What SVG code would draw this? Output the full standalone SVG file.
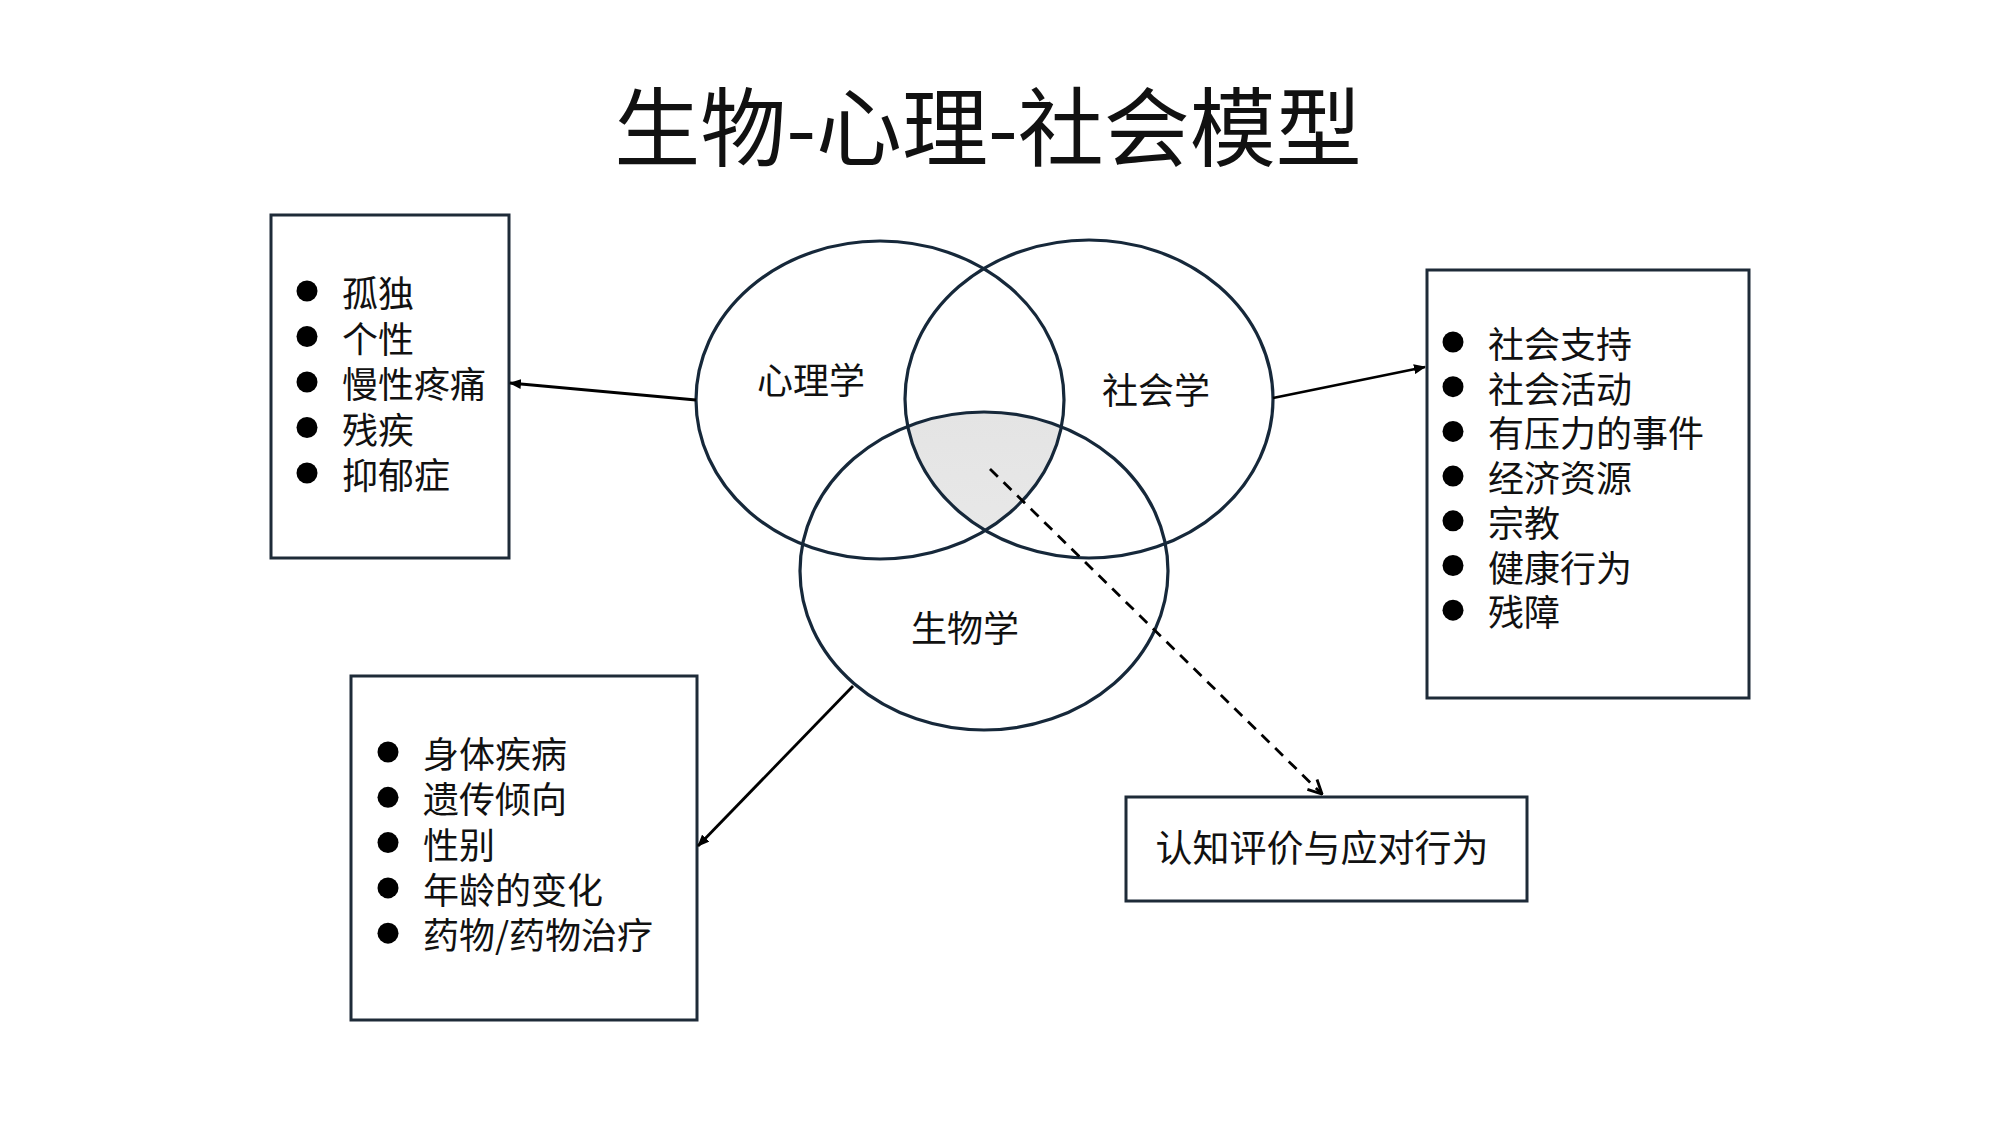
<svg xmlns="http://www.w3.org/2000/svg" width="2000" height="1124" viewBox="0 0 2000 1124">
<style>
text{font-family:"Noto Sans CJK SC","Noto Sans",sans-serif;fill:#111}
.item{font-size:36px;dominant-baseline:central}
.lbl{font-size:36px;dominant-baseline:central;text-anchor:middle}
.box{fill:#fff;stroke:#1e2b38;stroke-width:3}
.ell{fill:none;stroke:#16283a;stroke-width:3.2}
.bul{fill:#000}
.con{stroke:#000;stroke-width:2.8;fill:none}
</style>
<defs>
<marker id="arr" viewBox="0 0 12 10" refX="11" refY="5" markerWidth="12" markerHeight="10" markerUnits="userSpaceOnUse" orient="auto">
<path d="M0,0 L12,5 L0,10 Z" fill="#000"/>
</marker>
<marker id="open" viewBox="0 0 14 14" refX="13" refY="7" markerWidth="16" markerHeight="16" markerUnits="userSpaceOnUse" orient="auto">
<path d="M1,1 L13,7 L1,13" fill="none" stroke="#000" stroke-width="2.5"/>
</marker>
<linearGradient id="shade" x1="0" y1="0" x2="0" y2="1">
<stop offset="0" stop-color="#e4e4e4"/>
<stop offset="1" stop-color="#eeeeee"/>
</linearGradient>
<clipPath id="cpPsy"><ellipse cx="880" cy="400" rx="184" ry="159"/></clipPath>
<clipPath id="cpSoc"><ellipse cx="1089" cy="399" rx="184" ry="159"/></clipPath>
</defs>
<rect width="2000" height="1124" fill="#fff"/>
<text id="title" x="988" y="160" font-size="86" text-anchor="middle">生物-心理-社会模型</text>

<g id="venn">
<g clip-path="url(#cpPsy)"><g clip-path="url(#cpSoc)"><ellipse cx="984" cy="571" rx="184" ry="159" fill="url(#shade)"/></g></g>
<g id="psychology"><ellipse class="ell" cx="880" cy="400" rx="184" ry="159"/><text class="lbl" x="811" y="378">心理学</text></g>
<g id="sociology"><ellipse class="ell" cx="1089" cy="399" rx="184" ry="159"/><text class="lbl" x="1156" y="388">社会学</text></g>
<g id="biology"><ellipse class="ell" cx="984" cy="571" rx="184" ry="159"/><text class="lbl" x="965" y="626">生物学</text></g>
</g>

<g id="psych-box">
<rect class="box" x="271" y="215" width="238" height="343"/>
<circle class="bul" cx="307" cy="291" r="10.5"/><text class="item" x="342" y="291">孤独</text>
<circle class="bul" cx="307" cy="336.5" r="10.5"/><text class="item" x="342" y="336.5">个性</text>
<circle class="bul" cx="307" cy="382" r="10.5"/><text class="item" x="342" y="382">慢性疼痛</text>
<circle class="bul" cx="307" cy="427.5" r="10.5"/><text class="item" x="342" y="427.5">残疾</text>
<circle class="bul" cx="307" cy="473" r="10.5"/><text class="item" x="342" y="473">抑郁症</text>
</g>

<g id="social-box">
<rect class="box" x="1427" y="270" width="322" height="428"/>
<circle class="bul" cx="1453" cy="342" r="10.5"/><text class="item" x="1488" y="342">社会支持</text>
<circle class="bul" cx="1453" cy="386.7" r="10.5"/><text class="item" x="1488" y="386.7">社会活动</text>
<circle class="bul" cx="1453" cy="431.4" r="10.5"/><text class="item" x="1488" y="431.4">有压力的事件</text>
<circle class="bul" cx="1453" cy="476.1" r="10.5"/><text class="item" x="1488" y="476.1">经济资源</text>
<circle class="bul" cx="1453" cy="520.8" r="10.5"/><text class="item" x="1488" y="520.8">宗教</text>
<circle class="bul" cx="1453" cy="565.5" r="10.5"/><text class="item" x="1488" y="565.5">健康行为</text>
<circle class="bul" cx="1453" cy="610.2" r="10.5"/><text class="item" x="1488" y="610.2">残障</text>
</g>

<g id="bio-box">
<rect class="box" x="351" y="676" width="346" height="344"/>
<circle class="bul" cx="388" cy="752" r="10.5"/><text class="item" x="423" y="752">身体疾病</text>
<circle class="bul" cx="388" cy="797.3" r="10.5"/><text class="item" x="423" y="797.3">遗传倾向</text>
<circle class="bul" cx="388" cy="842.6" r="10.5"/><text class="item" x="423" y="842.6">性别</text>
<circle class="bul" cx="388" cy="887.9" r="10.5"/><text class="item" x="423" y="887.9">年龄的变化</text>
<circle class="bul" cx="388" cy="933.2" r="10.5"/><text class="item" x="423" y="933.2">药物/药物治疗</text>
</g>

<g id="coping-box">
<rect class="box" x="1126" y="797" width="401" height="104"/>
<text class="lbl" x="1322" y="846" style="font-size:37px">认知评价与应对行为</text>
</g>

<g id="connectors">
<line class="con" x1="696" y1="400" x2="510" y2="383" marker-end="url(#arr)"/>
<line class="con" x1="1273" y1="398" x2="1425" y2="367" marker-end="url(#arr)"/>
<line class="con" x1="853" y1="686" x2="698" y2="846" marker-end="url(#arr)"/>
<line class="con" x1="990" y1="469" x2="1322" y2="794" stroke-dasharray="11 8" stroke-width="2.6" marker-end="url(#open)"/>
</g>
</svg>
